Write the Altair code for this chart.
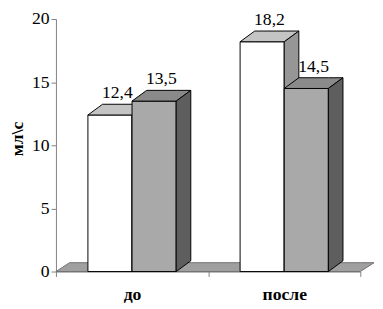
import altair as alt
import pandas as pd

# ---- data ----
categories = ["до", "после"]
series_names = ["white", "pattern"]
values_white = [12.4, 18.2]
values_pattern = [13.5, 14.5]
y_ticks = [0, 5, 10, 15, 20]
y_title = "мл\\с"

# ---- styling / geometry (data units of the scales) ----
BAR_W = 0.29      # width of one bar front face (x units, 1 unit = one category band)
DX = 0.096        # 3D depth, horizontal
DY = 0.85         # 3D depth, vertical (value units)
FLOOR_DX = 0.09
FLOOR_DY = 0.7
FONT = "Liberation Serif, DejaVu Serif, serif"

face_colors = {
    "white": {"front": "#ffffff", "top": "#c4c4c4", "side": "#969696"},
    "pattern": {"front": "#a9a9a9", "top": "#8a8a8a", "side": "#5e5e5e"},
}

series_values = {"white": values_white, "pattern": values_pattern}

rows = []
labels = []
bar_id = 0
for ci, cat in enumerate(categories):
    c = ci + 0.5
    for si, s in enumerate(series_names):
        v = series_values[s][ci]
        x0 = c - BAR_W + si * BAR_W
        x1 = x0 + BAR_W
        col = face_colors[s]
        rows += [
            dict(bar=bar_id, face="front", x=x0, y=0, y2=v, fill=col["front"]),
            dict(bar=bar_id, face="front", x=x1, y=0, y2=v, fill=col["front"]),
        ]
        rows += [
            dict(bar=bar_id, face="top", x=x0, y=v, y2=v, fill=col["top"]),
            dict(bar=bar_id, face="top", x=x0 + DX, y=v, y2=v + DY, fill=col["top"]),
            dict(bar=bar_id, face="top", x=x1, y=v, y2=v + DY, fill=col["top"]),
            dict(bar=bar_id, face="top", x=x1 + DX, y=v + DY, y2=v + DY, fill=col["top"]),
        ]
        rows += [
            dict(bar=bar_id, face="side", x=x1, y=0, y2=v, fill=col["side"]),
            dict(bar=bar_id, face="side", x=x1 + DX, y=DY, y2=v + DY, fill=col["side"]),
        ]
        labels.append(dict(x=(x0 + x1) / 2 + DX / 2, y=v + DY,
                           label=f"{v:.1f}".replace(".", ",")))
        bar_id += 1

faces = pd.DataFrame(rows)
label_df = pd.DataFrame(labels)

n = len(categories)
floor_df = pd.DataFrame([
    dict(x=0, y=0, y2=0),
    dict(x=FLOOR_DX, y=0, y2=FLOOR_DY),
    dict(x=n, y=0, y2=FLOOR_DY),
    dict(x=n + FLOOR_DX, y=FLOOR_DY, y2=FLOOR_DY),
])

x_values = [0, 0.5, 1, 1.5, 2]
label_expr = "datum.value == 0.5 ? '%s' : datum.value == 1.5 ? '%s' : ''" % (categories[0], categories[1])

x_scale = alt.Scale(domain=[0, n], nice=False, zero=False)
y_scale = alt.Scale(domain=[0, 20], nice=False)

x_axis = alt.Axis(
    values=x_values, labelExpr=label_expr, title=None, grid=False,
    domainColor="#808080", tickColor="#808080", tickSize=5,
    tickOpacity={"condition": {"test": "datum.value == 0.5 || datum.value == 1.5", "value": 0}, "value": 1},
    labelFont=FONT, labelFontSize=18, labelFontWeight="bold", labelColor="black",
    labelPadding=10, labelOverlap=False, labelFlush=False,
)
y_axis = alt.Axis(
    values=y_ticks, title=y_title, grid=False,
    domainColor="#808080", tickColor="#808080", tickSize=5,
    labelFont=FONT, labelFontSize=18, labelColor="black", labelPadding=2,
    titleFont=FONT, titleFontSize=18, titleFontWeight="bold", titleColor="black",
    titleAngle=270, titleBaseline="alphabetic", titleX=-34, titleY=122, titleAlign="center",
)

X = alt.X("x:Q", scale=x_scale, axis=x_axis)
Y = alt.Y("y:Q", scale=y_scale, axis=y_axis)

floor = alt.Chart(floor_df).mark_area(
    fill="#a0a0a0", stroke="#707070", strokeWidth=1, interpolate="linear"
).encode(x=X, y=Y, y2="y2:Q")

layers = [floor]
for b in range(bar_id):
    layers.append(
        alt.Chart(faces).transform_filter(alt.datum.bar == b).mark_area(
            stroke="black", strokeWidth=1, interpolate="linear", opacity=1
        ).encode(
            x=X, y=Y, y2="y2:Q",
            detail="face:N",
            fill=alt.Fill("fill:N", scale=None),
        )
    )

text = alt.Chart(label_df).mark_text(
    font=FONT, fontSize=18, color="black", baseline="alphabetic", dy=-6
).encode(x=X, y=Y, text="label:N")
layers.append(text)

chart = alt.layer(*layers).properties(
    width=311, height=258,
    autosize=alt.AutoSizeParams(type="none"),
    padding={"left": 49, "top": 8, "right": 15, "bottom": 35},
    background="white",
).configure_view(stroke=None)

chart.save("out.html", embed_options={"renderer": "svg", "actions": False})
